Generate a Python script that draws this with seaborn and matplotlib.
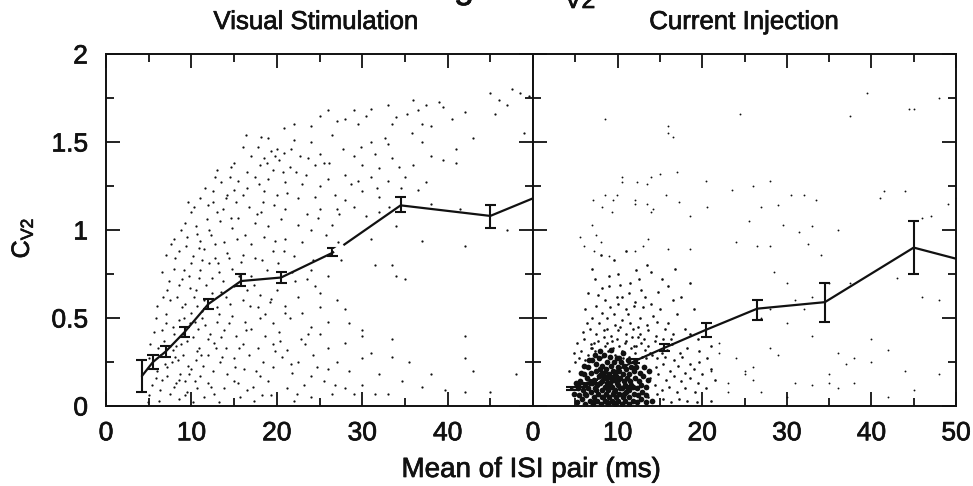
import matplotlib
matplotlib.use("Agg")
import matplotlib.pyplot as plt
import matplotlib.patheffects as pe
import seaborn as sns
import pandas as pd
from matplotlib.ticker import MultipleLocator

sns.set_theme(style="white")
plt.rcParams['font.family'] = ['Liberation Sans', 'DejaVu Sans']
plt.rcParams['mathtext.default'] = 'regular'

# mean curves and error bars
vis_mean_x = [4.2, 5.5, 7.0, 9.2, 12.0, 15.8, 20.5, 26.5, 34.5, 45.0, 50.0]
vis_mean_y = [0.17, 0.25, 0.31, 0.42, 0.58, 0.71, 0.73, 0.87, 1.14, 1.08, 1.18]
vis_err_lo = [0.08, 0.21, 0.28, 0.39, 0.55, 0.68, 0.70, 0.85, 1.10, 1.01, 1.18]
vis_err_hi = [0.26, 0.29, 0.34, 0.45, 0.61, 0.75, 0.76, 0.90, 1.19, 1.14, 1.18]
inj_mean_x = [4.5, 5.5, 7.0, 9.0, 12.0, 15.5, 20.5, 26.5, 34.5, 45.0, 50.0]
inj_mean_y = [0.10, 0.12, 0.14, 0.18, 0.255, 0.33, 0.434, 0.553, 0.59, 0.90, 0.837]
inj_err_lo = [0.09, 0.11, 0.13, 0.17, 0.245, 0.31, 0.39, 0.49, 0.477, 0.75, 0.837]
inj_err_hi = [0.11, 0.13, 0.15, 0.19, 0.265, 0.355, 0.47, 0.60, 0.70, 1.05, 0.837]

# scatter (x = mean ISI, y = Cv2)
vis_points = [
 (36,1.74),(37.5,1.71),(33,1.71),(39,1.73),(39.5,1.7),(35.2,1.66),(36.5,1.68),(45,1.78),(47.5,1.8),(48.5,1.78),
 (49.5,1.76),(46,1.74),(47,1.71),(45.5,1.66),(42,1.67),(40.5,1.63),(34,1.64),(31,1.69),(29,1.68),(26,1.68),
 (25,1.65),(24,1.59),(27,1.62),(28,1.63),(22,1.6),(20.8,1.58),(29.5,1.6),(30.5,1.65),(33.5,1.6),(37,1.6),
 (38,1.59),(16.4,1.54),(19,1.52),(18.2,1.53),(22,1.51),(24,1.5),(26.5,1.54),(31,1.5),(33,1.49),(35.8,1.55),
 (37,1.5),(41,1.46),(43,1.52),(49,1.55),(20,1.46),(19.3,1.45),(19.8,1.42),(20.3,1.4),(18.5,1.41),(17,1.42),
 (15,1.38),(16.5,1.33),(18,1.37),(21.5,1.36),(25,1.43),(25.5,1.38),(24.5,1.37),(29,1.42),(30,1.37),(31.5,1.43),
 (33.5,1.41),(32,1.35),(36,1.37),(38,1.42),(39.5,1.4),(41,1.38),(12.8,1.3),(13.5,1.27),(14.5,1.3),(15.5,1.28),
 (17.5,1.3),(19,1.29),(21,1.27),(23,1.26),(25,1.25),(26,1.29),(28,1.31),(29.5,1.28),(31,1.3),(33,1.28),
 (35,1.3),(37.5,1.27),(12.5,1.22),(14.2,1.2),(15,1.23),(16.5,1.24),(18.5,1.22),(20,1.2),(22.5,1.18),(24.5,1.19),
 (26.8,1.2),(28,1.17),(30,1.22),(32,1.19),(34.5,1.24),(38,1.15),(11,1.18),(12,1.14),(13.7,1.12),(15.2,1.16),
 (16.8,1.13),(18.2,1.1),(19.7,1.14),(21,1.12),(23.5,1.09),(25,1.12),(27,1.12),(29,1.13),(32,1.1),(41.5,1.12),
 (10,1.1),(9.2,1.04),(10.5,1.02),(11.8,1.06),(13.3,1.05),(14.8,1.01),(15.5,1.07),(17.5,1.04),(19,1.02),(20.5,1.06),
 (22.5,1.03),(24,1.0),(26.5,1.03),(34,1.02),(47,1.0),(8,0.95),(9.5,0.96),(11,0.94),(12.3,0.97),(13.8,0.93),
 (15.3,0.95),(17,0.92),(18.5,0.96),(21,0.95),(23,0.93),(31,0.95),(37,0.94),(42,0.91),(7,0.86),(8.5,0.88),
 (10.2,0.85),(11.5,0.89),(12.8,0.84),(14.2,0.87),(16,0.86),(17.5,0.84),(19.5,0.88),(22,0.85),(24.2,0.83),(27.5,0.83),
 (31.5,0.8),(33.5,0.8),(6.5,0.76),(8,0.78),(9.7,0.74),(11,0.77),(12.4,0.73),(13.2,0.76),(14.8,0.78),(17,0.74),
 (18.8,0.77),(21.8,0.76),(23.5,0.72),(26,0.74),(34,0.74),(35,0.72),(7.2,0.66),(8.6,0.69),(10.5,0.66),(11.7,0.69),
 (13.5,0.65),(15,0.68),(16.5,0.66),(18,0.63),(20,0.66),(22.5,0.62),(25,0.64),(27,0.6),(6,0.57),(7.5,0.6),
 (9.2,0.58),(10.3,0.62),(11.5,0.6),(13,0.56),(14.5,0.58),(16,0.6),(17.8,0.56),(19.2,0.59),(21,0.57),(23,0.53),
 (25,0.56),(28,0.55),(5.8,0.5),(7,0.52),(8.6,0.49),(10,0.53),(11.2,0.5),(13,0.48),(14.8,0.51),(16.3,0.48),
 (18,0.5),(19.6,0.47),(21.5,0.5),(24,0.45),(26,0.48),(28.5,0.47),(30,0.43),(6.5,0.43),(7.8,0.45),(9,0.41),
 (10.8,0.44),(12.2,0.41),(13.8,0.43),(15.2,0.4),(17,0.44),(18.6,0.4),(20.2,0.42),(22.8,0.38),(25,0.41),(30,0.4),
 (33.5,0.38),(42,0.4),(5.2,0.35),(6.8,0.37),(8.2,0.34),(9.5,0.37),(10.9,0.33),(12.7,0.36),(14,0.33),(16,0.35),
 (17.8,0.33),(19.5,0.35),(21.2,0.32),(23.3,0.35),(26,0.33),(28,0.36),(31,0.3),(5,0.27),(6.3,0.29),(7.7,0.25),
 (9,0.29),(10.5,0.26),(12,0.29),(13.3,0.25),(15,0.27),(16.8,0.29),(18.4,0.25),(20.6,0.28),(22.5,0.25),(24.2,0.29),
 (27,0.25),(30,0.27),(33.5,0.28),(35.5,0.25),(42,0.27),(6,0.2),(7.2,0.22),(8.7,0.18),(10,0.21),(11,0.17),
 (12.5,0.2),(14.2,0.18),(16.2,0.21),(18,0.17),(19.6,0.22),(21.8,0.19),(24,0.17),(26,0.21),(28.5,0.2),(32,0.18),
 (38,0.18),(43,0.2),(48,0.18),(5.4,0.12),(6.6,0.15),(8,0.11),(9.3,0.14),(10.6,0.1),(12,0.13),(13.8,0.1),
 (15.5,0.13),(17.2,0.11),(19,0.14),(21.2,0.1),(23.2,0.12),(25.5,0.14),(28,0.1),(30,0.12),(34.7,0.14),(5,0.06),
 (6.2,0.03),(7.5,0.07),(8.6,0.04),(9.5,0.08),(10.2,0.02),(11.5,0.05),(13.2,0.02),(15.7,0.05),(17.3,0.03),(19.3,0.06),
 (22,0.03),(24,0.05),(26.5,0.07),(29,0.07),(31.5,0.07),(33,0.07),(37,0.11),(39.7,0.09),(42,0.08),(45,0.08),
 (4.9,0.02),(8.2,0.13),(8.1,0.28),(7.9,0.32),(9.1,0.5),(9.8,0.47),(10.6,0.57),(8.3,0.62),(8.9,0.72),(9.9,0.81),
 (10.9,0.9),(12.1,1.0),(13,1.1),(14.1,1.18),(16.1,1.2),(17.9,1.26),(18.9,1.38),(20.9,1.44),(23.7,1.41),(27.7,1.46),
]

# further dots in the denser part of the left cloud
vis_extra = [
 (6.37,0.09),(7.13,0.17),(8.46,0.26),(9.23,0.06),(10.71,0.31),(11.38,0.23),(12.66,0.07),(7.92,0.41),(9.57,0.23),(8.83,0.35),
 (10.17,0.39),(11.64,0.46),(12.93,0.33),(13.27,0.52),(14.36,0.47),(15.61,0.33),(16.44,0.43),(9.84,0.67),(10.92,0.73),(11.26,0.54),
 (12.47,0.64),(13.72,0.71),(14.09,0.62),(15.53,0.74),(16.87,0.57),(17.34,0.69),(18.63,0.52),(19.28,0.61),(8.07,0.84),(9.39,0.91),
 (10.64,0.98),(11.21,0.83),(12.76,0.92),(13.13,0.81),(14.59,1.07),(15.82,0.82),(16.31,0.97),(17.68,1.09),(18.22,0.83),(19.74,0.94),
 (20.17,0.81),(9.66,1.16),(11.59,1.24),(13.02,1.34),(14.67,1.36),(16.02,1.47),(17.84,1.47),(19.56,1.34),(21.14,1.21),(22.73,1.42),
 (23.41,1.31),(24.86,1.07),(26.12,1.38),(27.33,1.09),(28.64,1.26),(30.47,1.08),(31.76,1.24),(33.19,1.13),(34.27,1.36),(36.58,1.23),
 (20.36,0.37),(21.71,0.24),(22.38,0.07),(23.64,0.41),(18.21,0.06),(16.47,0.09),(14.93,0.14),(13.56,0.28),(12.24,0.11),(11.09,0.29),
 (15.11,0.22),(17.58,0.2),(19.82,0.31),(24.69,0.22),(26.81,0.12),(20.91,0.53),(22.16,0.71),(24.51,0.68),(6.73,0.62),(7.36,0.71),
 (5.62,0.42),(6.11,0.33),(7.07,0.47),(8.94,0.56),(10.38,0.48),(11.93,0.38),(13.49,0.39),(9.11,0.77),(12.11,0.81),(14.41,0.84),
 (7.61,0.92),(8.78,1.0),(10.33,1.13),(12.57,1.16),(18.43,1.16),(20.68,1.33),(21.61,1.46),(22.24,1.33),(29.84,1.47),(32.63,1.52),
 (25.71,0.97),(24.02,0.77),(27.12,0.93),(20.84,0.88),(6.91,0.24),(5.83,0.16),(9.71,0.18),(7.46,0.34),(8.59,0.15),(10.44,0.14),
]

inj_sparse = [
 (39.5,1.78),(48,1.75),(45,1.69),(37.5,1.65),(44.5,1.69),(16,1.55),(8.5,1.63),(16,1.59),
 (24.5,1.66),(16.5,1.53),(15,1.32),(10.5,1.3),(20.5,1.28),(17,1.33),(12.3,1.27),(9.9,1.2),(8.5,1.2),(7.1,1.17),
 (10.5,1.27),(14,1.3),(13.5,1.26),(15.7,1.2),(12,1.17),(9.3,1.1),(8.2,1.13),(9.5,1.17),(13.5,1.15),(14.2,1.12),
 (17.2,1.16),(12,1.15),(13.9,1.1),(18.5,1.08),(20.6,1.13),(23.5,1.23),(26,1.25),(28,1.28),(30.5,1.2),(33.5,1.17),
 (32,1.2),(29,1.14),(27,1.13),(25.5,1.05),(29.5,1.03),(33,1.02),(31.5,0.99),(32.5,0.92),(36,1.0),(41.5,1.22),
 (41,1.18),(44,1.22),(47,1.08),(49,1.15),(50,1.18),(46,1.07),(7,1.03),(7.5,0.97),(6,0.91),(5.5,0.96),
 (8,0.93),(7.2,0.88),(9,0.85),(12,0.88),(13,0.91),(13.6,0.95),(16,0.89),(18.5,0.89),(24,0.93),(26.5,0.91),
 (28,0.91),(34,0.86),(30,0.7),(28.5,0.76),(35,0.7),(33,0.62),(43,0.73),(48,0.6),(37.5,0.7),(46,0.62),
 (40,0.38),(42,0.32),(38,0.27),(31,0.6),(28,0.55),(32,0.55),(27,0.5),(30,0.47),(33,0.4),(36,0.3),
 (40,0.25),(44,0.2),(48,0.18),(33,0.12),(36,0.1),(42,0.05),(30,0.05),(27,0.08),(26,0.22),(25,0.18),
 (22,0.3),(24,0.27),(25,0.2),(23,0.13),(21,0.2),(28,0.33),(29,0.29),(22,0.36),(31,0.13),(35,0.18),
 (37,0.24),(45,0.09),(26,0.15),(23,0.08),(35,0.13),(38,0.13),
]

inj_mid = [
 (8,0.86),(10,0.75),(12.5,0.72),(7,0.78),(9,0.68),(6.5,0.64),(8.5,0.6),(10.5,0.62),(11.5,0.7),(12.8,0.66),
 (14,0.76),(15.2,0.72),(16.8,0.78),(9.6,0.83),(11,0.88),(13.5,0.8),(14.8,0.65),(16,0.68),(17.5,0.62),(18.5,0.7),
 (6.2,0.55),(7.4,0.57),(8.2,0.53),(9.1,0.56),(10,0.58),(11,0.55),(12.1,0.59),(13,0.56),(14,0.58),(15,0.55),
 (16.5,0.6),(19,0.55),(7,0.5),(7.8,0.47),(8.8,0.5),(9.7,0.46),(10.5,0.49),(11.5,0.47),(12.6,0.5),(13.5,0.46),
 (14.6,0.48),(16,0.47),(17,0.52),(18,0.44),(5.9,0.42),(6.7,0.44),(7.5,0.41),(8.4,0.43),(9.2,0.4),(10.1,0.43),
 (11,0.41),(11.8,0.44),(12.7,0.41),(13.6,0.43),(14.5,0.4),(15.6,0.44),(16.6,0.41),(18.5,0.41),(19.5,0.38),(5.2,0.36),
 (6,0.38),(6.9,0.35),(7.7,0.37),(8.5,0.34),(9.3,0.37),(10.2,0.34),(11,0.37),(11.9,0.34),(12.8,0.36),(13.6,0.34),
 (14.4,0.37),(15.3,0.3),(16.4,0.35),(17.4,0.3),(18.2,0.33),(19.6,0.31),(21,0.34),(4.8,0.3),(5.7,0.31),(6.5,0.29),
 (7.3,0.31),(8.1,0.28),(8.9,0.31),(9.7,0.29),(10.5,0.31),(11.3,0.28),(12.1,0.3),(12.9,0.28),(13.8,0.3),(14.7,0.27),
 (15.6,0.28),(16.7,0.26),(17.6,0.28),(18.6,0.24),(19.6,0.25),(20.6,0.27),(4.3,0.2),(5,0.25),(14.5,0.22),(15.4,0.24),
 (16.2,0.2),(17.1,0.23),(18,0.19),(19,0.21),(20,0.18),(21,0.21),(13.8,0.16),(14.8,0.18),(15.7,0.15),(16.7,0.17),
 (17.5,0.14),(18.6,0.16),(19.5,0.13),(21.5,0.15),(13.5,0.1),(14.4,0.12),(15.2,0.09),(16.1,0.11),(17,0.08),(18,0.1),
 (19.2,0.08),(20.5,0.1),(13.6,0.05),(14.6,0.07),(15.4,0.04),(16.3,0.02),(17.2,0.04),(18.2,0.03),(19.4,0.02),(21,0.03),
 (6.43,0.47),(7.19,0.36),(8.71,0.44),(9.58,0.52),(10.83,0.36),(11.27,0.52),(12.36,0.45),(13.14,0.38),(14.23,0.51),(15.42,0.38),
 (6.82,0.33),(7.64,0.27),(8.37,0.39),(9.42,0.33),(10.67,0.27),(11.63,0.33),(12.44,0.39),(13.27,0.32),(14.11,0.29),(15.83,0.32),
 (5.47,0.27),(6.16,0.26),(7.03,0.33),(8.76,0.36),(9.91,0.38),(10.34,0.45),(11.72,0.39),(12.23,0.34),(13.36,0.27),(16.27,0.38),
 (7.74,0.63),(8.93,0.74),(10.24,0.69),(11.36,0.64),(12.17,0.77),(13.29,0.62),(7.37,0.72),(9.87,0.62),(11.94,0.57),(8.14,0.67),
]

inj_core = [
 (5.2,0.02),(5.4,0.06),(5.3,0.1),(5.6,0.14),(5.8,0.04),(5.9,0.09),(6,0.18),(6.2,0.01),(6.3,0.06),(6.2,0.12),
 (6.4,0.16),(6.5,0.22),(6.7,0.03),(6.8,0.08),(6.7,0.13),(6.9,0.19),(7,0.26),(7.1,0.01),(7.2,0.05),(7.3,0.1),
 (7.2,0.15),(7.4,0.2),(7.5,0.24),(7.6,0.03),(7.7,0.07),(7.6,0.12),(7.8,0.17),(7.9,0.21),(7.8,0.27),(8,0.01),
 (8.1,0.05),(8.2,0.09),(8.1,0.14),(8.3,0.19),(8.2,0.23),(8.4,0.29),(8.5,0.03),(8.6,0.07),(8.5,0.11),(8.7,0.16),
 (8.6,0.21),(8.8,0.25),(8.9,0.01),(9,0.05),(8.9,0.09),(9.1,0.13),(9,0.18),(9.2,0.23),(9.1,0.28),(9.3,0.03),
 (9.4,0.07),(9.3,0.11),(9.5,0.15),(9.4,0.2),(9.6,0.25),(9.7,0.01),(9.8,0.05),(9.7,0.09),(9.9,0.13),(9.8,0.17),
 (10,0.22),(9.9,0.27),(10.1,0.03),(10.2,0.07),(10.1,0.12),(10.3,0.16),(10.2,0.2),(10.4,0.25),(10.5,0.01),(10.6,0.05),
 (10.5,0.1),(10.7,0.14),(10.6,0.18),(10.8,0.23),(10.9,0.03),(11,0.08),(10.9,0.12),(11.1,0.16),(11,0.21),(11.2,0.26),
 (11.3,0.01),(11.4,0.05),(11.3,0.09),(11.5,0.14),(11.4,0.18),(11.6,0.22),(11.8,0.03),(11.9,0.07),(11.8,0.11),(12,0.16),
 (11.9,0.2),(12.1,0.25),(12.3,0.02),(12.4,0.06),(12.3,0.1),(12.5,0.14),(12.6,0.19),(12.8,0.04),(12.9,0.08),(12.8,0.12),
 (13,0.17),(13.1,0.22),(13.3,0.02),(13.4,0.06),(13.3,0.11),(7.5,0.09),(8,0.18),(8.8,0.13),(9.6,0.08),(10.3,0.1),
 (9.2,0.16),(8.3,0.05),(7,0.13),(6.5,0.1),(10.8,0.07),(11.6,0.12),(8.7,0.02),(9.4,0.02),(10,0.15),(9,0.11),
 (5.07,0.13),(5.71,0.19),(6.04,0.23),(6.57,0.26),(7.34,0.29),(4.82,0.07),(7.93,0.31),(9.27,0.32),(10.62,0.3),(6.13,0.07),
 (7.04,0.02),(7.88,0.13),(8.43,0.16),(9.68,0.19),(10.13,0.27),(11.17,0.11),(12.21,0.22),(13.58,0.15),(13.72,0.2),(14.07,0.03),
]

vis_df = pd.DataFrame(vis_points + vis_extra, columns=["x", "y"])
sparse_df = pd.DataFrame(inj_sparse, columns=["x", "y"])
mid_df = pd.DataFrame(inj_mid, columns=["x", "y"])
core_df = pd.DataFrame(inj_core, columns=["x", "y"])

W, H = 973, 486
fig = plt.figure(figsize=(W / 100, H / 100), dpi=100, facecolor="white")
top, bottom = 54, 406
ax1 = fig.add_axes([106 / W, 1 - bottom / H, (533 - 106) / W, (bottom - top) / H])
ax2 = fig.add_axes([533 / W, 1 - bottom / H, (956 - 533) / W, (bottom - top) / H])

dark = "#111111"
sns.scatterplot(data=vis_df, x="x", y="y", ax=ax1, s=2.6, color=dark, linewidth=0)
sns.scatterplot(data=sparse_df, x="x", y="y", ax=ax2, s=1.8, color=dark, linewidth=0)
sns.scatterplot(data=mid_df, x="x", y="y", ax=ax2, s=3.5, color=dark, linewidth=0)
sns.scatterplot(data=core_df, x="x", y="y", ax=ax2, s=17, color=dark, linewidth=0)

for ax, mx, my, lo, hi in [(ax1, vis_mean_x, vis_mean_y, vis_err_lo, vis_err_hi),
                           (ax2, inj_mean_x, inj_mean_y, inj_err_lo, inj_err_hi)]:
    sns.lineplot(x=mx, y=my, ax=ax, color=dark, linewidth=1.6, errorbar=None, sort=False)
    ax.vlines(mx[:-1], lo[:-1], hi[:-1], color=dark, linewidth=1.5, zorder=4)
    ax.hlines(lo[:-1] + hi[:-1], [v - 0.65 for v in mx[:-1]] * 2, [v + 0.65 for v in mx[:-1]] * 2,
              color=dark, linewidth=1.5, zorder=4)
    ax.set_xlim(0, 50)
    ax.set_ylim(0, 2)
    ax.xaxis.set_major_locator(MultipleLocator(10))
    ax.xaxis.set_minor_locator(MultipleLocator(5))
    ax.yaxis.set_major_locator(MultipleLocator(0.5))
    ax.yaxis.set_minor_locator(MultipleLocator(0.25))
    ax.tick_params(which="major", direction="in", length=10, width=1.3, top=True, bottom=True,
                   left=True, right=True, color=dark, labelsize=19, labelcolor=dark)
    ax.tick_params(axis="x", which="major", pad=11)
    ax.tick_params(axis="y", which="major", pad=13)
    ax.tick_params(which="minor", direction="in", length=6, width=1.3, top=True, bottom=True,
                   left=True, right=True, color=dark)
    for s in ax.spines.values():
        s.set_visible(True)
        s.set_linewidth(1.4)
        s.set_color(dark)
    ax.set_xlabel("")
    ax.set_ylabel("")
    ax.grid(False)

ax1.set_xticks([0, 10, 20, 30, 40])
ax1.set_xticklabels(["0", "10", "20", "30", "40"])
ax1.set_yticks([0, 0.5, 1, 1.5, 2])
ax1.set_yticklabels(["0", "0.5", "1", "1.5", "2"])
ax2.tick_params(labelleft=False)
ax2.set_xticks([0, 10, 20, 30, 40, 50])
ax2.set_xticklabels(["0", "10", "20", "30", "40", "50"])

# fading in the print: gap in the left-hand curve
ax1.plot([26.7, 27.8], [0.877, 0.914], color="white", linewidth=3.5, zorder=5, solid_capstyle="butt")

heavy = [pe.withStroke(linewidth=0.5, foreground=dark)]
texts = [
    fig.text(316 / W, 1 - 22 / H, "Visual Stimulation", ha="center", va="center", fontsize=18.6, color=dark),
    fig.text(744 / W, 1 - 22 / H, "Current Injection", ha="center", va="center", fontsize=18.6, color=dark),
    fig.text(531 / W, 1 - 470 / H, "Mean of ISI pair (ms)", ha="center", va="center", fontsize=20, color=dark),
    fig.text(22 / W, 1 - 238 / H, "C$_{V2}$", rotation=90, ha="center", va="center", fontsize=18, color=dark),
    # bottom of the figure heading, cut off by the page edge
    fig.text(464 / W, 1 + 2 / H, "g", ha="center", va="baseline", fontsize=26, color=dark),
    fig.text(580 / W, 1 - 8 / H, "V2", ha="center", va="baseline", fontsize=18, color=dark),
]
for t in texts + ax1.get_xticklabels() + ax1.get_yticklabels() + ax2.get_xticklabels():
    t.set_path_effects(heavy)

fig.savefig("out.png", dpi=100)
